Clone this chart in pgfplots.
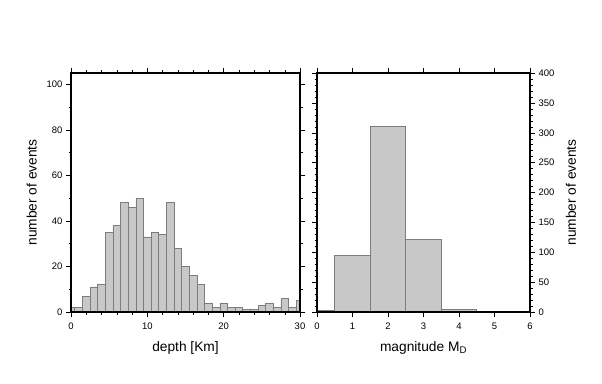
\documentclass[border=0pt]{standalone}
\usepackage{fontspec}
\setmainfont{Liberation Sans}
\usepackage{pgfplots}
\pgfplotsset{compat=1.18}
\definecolor{barfill}{RGB}{200,200,200}
\definecolor{baredge}{RGB}{125,125,125}
\pgfplotsset{
  gmt/.style={
    scale only axis,
    anchor=south west,
    height=239bp,
    tick align=outside,
    major tick length=5bp,
    minor tick length=2.5bp,
    axis line style={line width=1.1bp},
    every tick/.style={black, line width=0.45bp},
    /pgf/number format/assume math mode=true,
    ticklabel style={font=\fontsize{9.5}{11}\selectfont},
    xticklabel style={yshift=-2bp},
    axis on top,
    clip=true,
  }
}
\begin{document}
\begin{tikzpicture}[x=1bp,y=1bp]
\useasboundingbox (0,0) rectangle (602,383);
\begin{axis}[gmt,
  at={(71bp,71bp)}, width=229bp,
  xmin=0, xmax=30, ymin=0, ymax=105,
  xtick={0,10,20,30}, minor x tick num=4,
  ytick={0,20,...,100}, minor y tick num=1,
  xlabel={depth [Km]}, ylabel={number of events},
  xlabel style={font=\fontsize{13.8}{16}\selectfont, yshift=-5bp},
  ylabel style={font=\fontsize{13.8}{16}\selectfont, yshift=3bp},
]
\addplot[ybar, bar width=1, fill=barfill, draw=baredge, line width=0.7bp] coordinates {
(0,2)(1,2)(2,7)(3,11)(4,12)(5,35)(6,38)(7,48)(8,46)(9,50)
(10,33)(11,35)(12,34)(13,48)(14,28)(15,20)(16,16)(17,12)(18,4)(19,2)
(20,4)(21,2)(22,2)(23,1)(24,1)(25,3)(26,4)(27,2)(28,6)(29,2)(30,5)
};
\end{axis}
\begin{axis}[gmt,
  at={(317bp,71bp)}, width=213bp,
  xmin=0, xmax=6, ymin=0, ymax=400,
  xtick={0,1,...,6},
  ytick={0,50,...,400}, minor y tick num=4,
  yticklabel pos=right,
  xlabel={magnitude M\textsubscript{D}}, ylabel={number of events},
  xlabel style={font=\fontsize{13.8}{16}\selectfont, yshift=-5bp},
  every axis y label/.style={at={(rel axis cs:1,0.5)}, rotate=90, anchor=center, yshift=-41bp, font=\fontsize{13.8}{16}\selectfont},
]
\addplot[ybar, bar width=1, fill=barfill, draw=baredge, line width=0.7bp] coordinates {
(0,3)(1,95)(2,310)(3,122)(4,5)(5,1)(6,0.5)
};
\end{axis}
\end{tikzpicture}
\end{document}
